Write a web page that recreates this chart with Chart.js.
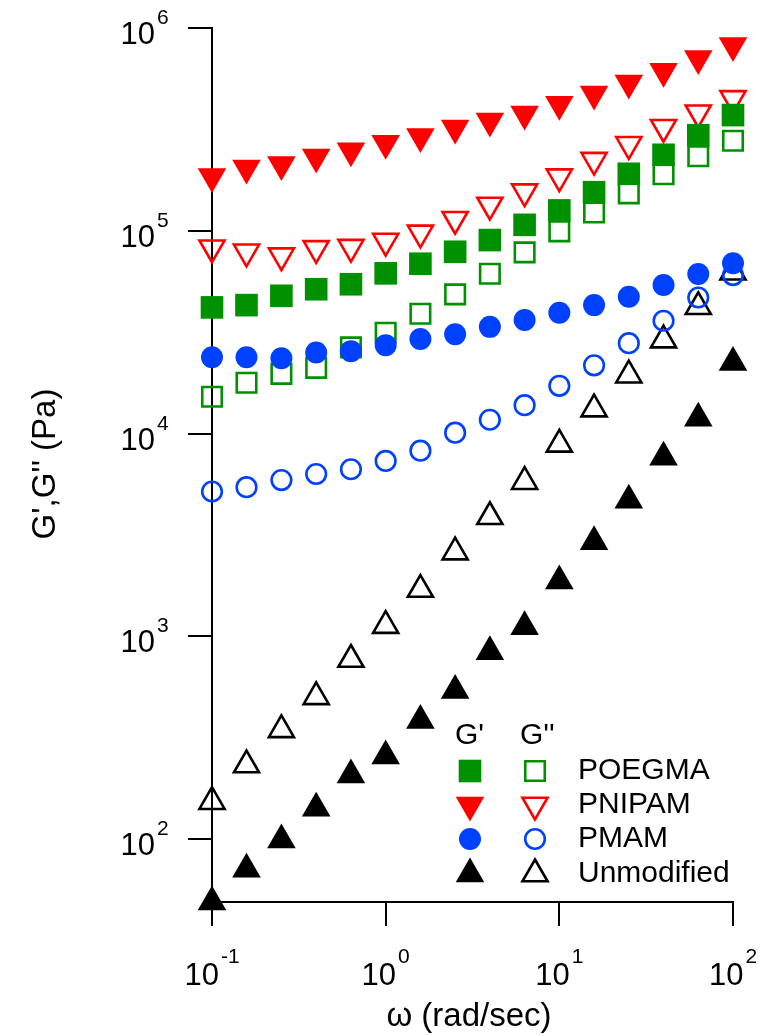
<!DOCTYPE html>
<html>
<head>
<meta charset="utf-8">
<script src="https://cdn.jsdelivr.net/npm/chart.js@4/dist/chart.umd.min.js"></script>
<style>
  html, body { margin: 0; padding: 0; background: #ffffff; }
  canvas { display: block; }
</style>
</head>
<body>
<canvas id="chart" width="769" height="1035"></canvas>
<script>
// Angular frequency (rad/s), five points per decade
const omega = [0.1, 0.158, 0.251, 0.398, 0.631, 1, 1.585, 2.512, 3.981, 6.31, 10, 15.85, 25.12, 39.81, 63.1, 100];

// Storage modulus G' (Pa)
const poegmaStorage = [4.19e4, 4.30e4, 4.78e4, 5.15e4, 5.45e4, 6.17e4, 6.88e4, 7.88e4, 9.00e4, 1.07e5, 1.26e5, 1.55e5, 1.91e5, 2.37e5, 2.96e5, 3.72e5];
const pnipamStorage = [1.85e5, 2.04e5, 2.12e5, 2.31e5, 2.48e5, 2.70e5, 2.92e5, 3.21e5, 3.48e5, 3.77e5, 4.21e5, 4.73e5, 5.36e5, 6.12e5, 7.08e5, 8.20e5];
const pmamStorage   = [2.38e4, 2.38e4, 2.35e4, 2.51e4, 2.55e4, 2.73e4, 2.93e4, 3.09e4, 3.36e4, 3.63e4, 3.94e4, 4.30e4, 4.73e4, 5.40e4, 6.12e4, 6.91e4];
const unmodStorage  = [49, 71, 99, 142, 207, 257, 385, 541, 839, 1115, 1878, 2926, 4690, 7640, 11900, 22400];

// Loss modulus G'' (Pa)
const poegmaLoss = [1.52e4, 1.78e4, 1.97e4, 2.11e4, 2.66e4, 3.14e4, 3.90e4, 4.86e4, 6.14e4, 7.83e4, 9.94e4, 1.23e5, 1.53e5, 1.90e5, 2.33e5, 2.78e5];
const pnipamLoss = [8.25e4, 7.88e4, 7.54e4, 8.19e4, 8.31e4, 8.90e4, 9.77e4, 1.14e5, 1.34e5, 1.56e5, 1.85e5, 2.23e5, 2.67e5, 3.24e5, 3.82e5, 4.50e5];
const pmamLoss   = [5.18e3, 5.44e3, 5.90e3, 6.32e3, 6.67e3, 7.33e3, 8.24e3, 1.01e4, 1.17e4, 1.38e4, 1.72e4, 2.17e4, 2.79e4, 3.60e4, 4.69e4, 6.05e4];
const unmodLoss  = [153, 232, 346, 503, 769, 1130, 1702, 2603, 3890, 5790, 8850, 13200, 19400, 28900, 42200, 62500];

// Axis ticks and their labels (mantissa, exponent)
const xTicks = [0.1, 1, 10, 100];
const xTickLabels = [['10', '-1'], ['10', '0'], ['10', '1'], ['10', '2']];
const yTicks = [1e2, 1e3, 1e4, 1e5, 1e6];
const yTickLabels = [['10', '2'], ['10', '3'], ['10', '4'], ['10', '5'], ['10', '6']];

const seriesNames = ['POEGMA', 'PNIPAM', 'PMAM', 'Unmodified'];
const xTitle = 'ω (rad/sec)';
const yTitle = "G',G'' (Pa)";
const legendHeaders = ["G'", "G''"];

const FONT = '"Liberation Sans", Arial, Helvetica, sans-serif';

// Marker appearance per material
const markerStyles = {
  POEGMA:     { color: '#009100', style: 'rect',     rotation: 0,   rFilled: 16,   rOpen: 13.8 },
  PNIPAM:     { color: '#ff0000', style: 'triangle', rotation: 180, rFilled: 16.5, rOpen: 14.5 },
  PMAM:       { color: '#0040ff', style: 'circle',   rotation: 0,   rFilled: 11,   rOpen: 9.8 },
  Unmodified: { color: '#000000', style: 'triangle', rotation: 0,   rFilled: 16.5, rOpen: 14.5 }
};
const OPEN_WIDTH = 2.6;

const toPoints = ys => omega.map((x, i) => ({ x: x, y: ys[i] }));

function filledSet(name, ys) {
  const s = markerStyles[name];
  return {
    label: name + " G'", data: toPoints(ys), showLine: false, clip: false,
    pointStyle: s.style, pointRotation: s.rotation, pointRadius: s.rFilled, pointHoverRadius: s.rFilled,
    pointBackgroundColor: s.color, pointBorderColor: s.color, pointBorderWidth: 0
  };
}
function openSet(name, ys) {
  const s = markerStyles[name];
  return {
    label: name + " G''", data: toPoints(ys), showLine: false, clip: false,
    pointStyle: s.style, pointRotation: s.rotation, pointRadius: s.rOpen, pointHoverRadius: s.rOpen,
    pointBackgroundColor: 'rgba(0,0,0,0)', pointBorderColor: s.color, pointBorderWidth: OPEN_WIDTH
  };
}

// Power-of-ten labels, titles and the two-column legend
const annotations = {
  id: 'annotations',
  afterDraw(chart) {
    const ctx = chart.ctx;
    const xs = chart.scales.x, ys = chart.scales.y;
    ctx.save();
    ctx.fillStyle = '#000';
    ctx.textBaseline = 'alphabetic';

    // y tick labels
    yTicks.forEach((v, i) => {
      const py = ys.getPixelForValue(v);
      const [base, exp] = yTickLabels[i];
      ctx.font = '31px ' + FONT;
      ctx.textAlign = 'right';
      ctx.fillText(base, ys.right - 57, py + 16);
      ctx.font = '21px ' + FONT;
      ctx.textAlign = 'left';
      ctx.fillText(exp, ys.right - 55, py - 4);
    });

    // x tick labels
    xTicks.forEach((v, i) => {
      const px = xs.getPixelForValue(v);
      const [base, exp] = xTickLabels[i];
      ctx.font = '31px ' + FONT;
      const wb = ctx.measureText(base).width;
      ctx.font = '21px ' + FONT;
      const we = ctx.measureText(exp).width;
      const gap = 2;
      const start = px - (wb + gap + we) / 2;
      ctx.textAlign = 'left';
      ctx.font = '31px ' + FONT;
      ctx.fillText(base, start, xs.top + 83);
      ctx.font = '21px ' + FONT;
      ctx.fillText(exp, start + wb + gap, xs.top + 61);
    });

    // axis titles
    ctx.font = '33px ' + FONT;
    ctx.textAlign = 'center';
    ctx.fillText(xTitle, 469, 1026);
    ctx.save();
    ctx.translate(55, 464);
    ctx.rotate(-Math.PI / 2);
    ctx.font = '33px ' + FONT;
    ctx.textAlign = 'center';
    ctx.fillText(yTitle, 0, 0);
    ctx.restore();

    // legend
    const colFilled = 470, colOpen = 535, textX = 578;
    const rowY = [771, 805, 839, 874];
    ctx.font = '30px ' + FONT;
    ctx.textAlign = 'left';
    ctx.fillText(legendHeaders[0], 455, 744);
    ctx.fillText(legendHeaders[1], 520, 744);
    const drawPoint = Chart.helpers.drawPoint;
    seriesNames.forEach((name, i) => {
      const s = markerStyles[name];
      const y = rowY[i];
      ctx.fillStyle = s.color;
      ctx.strokeStyle = s.color;
      drawPoint(ctx, { pointStyle: s.style, rotation: s.rotation, radius: s.rFilled, borderWidth: 0 }, colFilled, y);
      ctx.fillStyle = 'rgba(0,0,0,0)';
      ctx.lineWidth = OPEN_WIDTH;
      drawPoint(ctx, { pointStyle: s.style, rotation: s.rotation, radius: s.rOpen, borderWidth: OPEN_WIDTH }, colOpen, y);
      ctx.fillStyle = '#000';
      ctx.textBaseline = 'middle';
      ctx.font = '30px ' + FONT;
      ctx.fillText(name, textX, y);
      ctx.textBaseline = 'alphabetic';
    });
    ctx.restore();
  }
};

new Chart(document.getElementById('chart'), {
  type: 'scatter',
  data: {
    datasets: [
      filledSet('POEGMA', poegmaStorage),
      filledSet('PMAM', pmamStorage),
      filledSet('PNIPAM', pnipamStorage),
      filledSet('Unmodified', unmodStorage),
      openSet('POEGMA', poegmaLoss),
      openSet('PNIPAM', pnipamLoss),
      openSet('PMAM', pmamLoss),
      openSet('Unmodified', unmodLoss)
    ]
  },
  options: {
    responsive: false,
    devicePixelRatio: 1,
    animation: false,
    events: [],
    layout: { padding: { left: 0, right: 36, top: 28, bottom: 0 } },
    plugins: { legend: { display: false }, tooltip: { enabled: false } },
    scales: {
      x: {
        type: 'logarithmic', position: 'bottom', min: 0.1, max: 100,
        afterBuildTicks: s => { s.ticks = xTicks.map(v => ({ value: v })); },
        afterFit: s => { s.height = 133; },
        ticks: { display: false },
        grid: { drawOnChartArea: false, drawTicks: true, tickLength: 24, color: '#000', lineWidth: 2 },
        border: { display: true, color: '#000', width: 2 }
      },
      y: {
        type: 'logarithmic', position: 'left', min: 49, max: 1e6,
        afterBuildTicks: s => { s.ticks = yTicks.map(v => ({ value: v })); },
        afterFit: s => { s.width = 212; },
        ticks: { display: false },
        grid: { drawOnChartArea: false, drawTicks: true, tickLength: 24, color: '#000', lineWidth: 2 },
        border: { display: true, color: '#000', width: 2 }
      }
    }
  },
  plugins: [annotations]
});
</script>
</body>
</html>
